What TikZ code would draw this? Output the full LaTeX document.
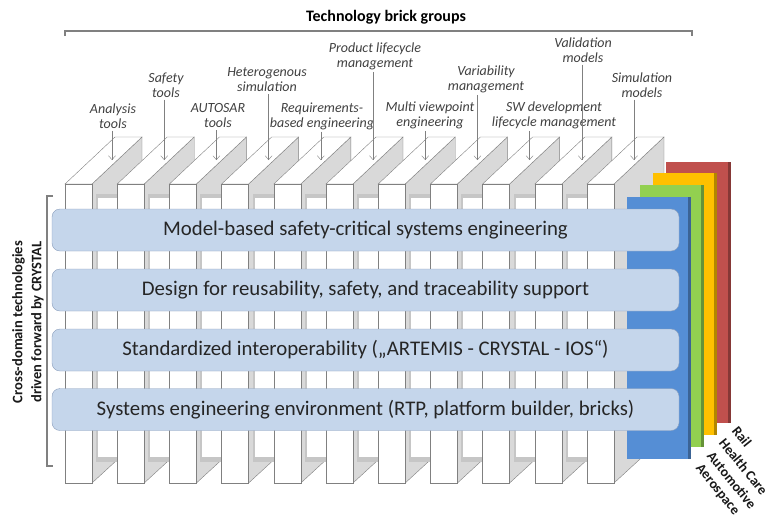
\documentclass[tikz,border=0pt]{standalone}
\usepackage{fontspec}
\setmainfont{Carlito}
\usepackage{tikz}
\usetikzlibrary{arrows.meta}

\definecolor{sidegray}{RGB}{217,217,217}
\definecolor{edgegray}{RGB}{128,128,128}
\definecolor{bandfill}{RGB}{197,214,235}
\definecolor{banddraw}{RGB}{138,158,188}
\definecolor{railred}{RGB}{192,80,77}
\definecolor{careyellow}{RGB}{255,192,0}
\definecolor{autogreen}{RGB}{146,208,80}
\definecolor{aeroblue}{RGB}{85,142,213}
\definecolor{labelgray}{RGB}{64,64,64}

\tikzset{
  bandbox/.style={draw=banddraw, fill=bandfill, rounded corners=8pt, minimum width=627pt,
               minimum height=42pt, text=black!85, font=\fontsize{20.8}{22}\selectfont},
  toollbl/.style={align=center, text=labelgray, inner sep=0pt,
               font=\fontsize{14}{15}\selectfont\itshape},
  toolarrow/.style={draw=edgegray, shorten <=2pt, -{Straight Barb[length=4pt,width=7pt]}},
  domainlbl/.style={rotate=-51, anchor=west, inner sep=0pt, text=black!90,
                 font=\fontsize{14}{15}\selectfont\bfseries},
  bracketline/.style={draw=edgegray, line width=1.2pt},
}

\begin{document}
\begin{tikzpicture}[x=1pt,y=-1pt]
  \useasboundingbox (0,0) rectangle (771,520);
  \pgfmathsetmacro\pstep{52.2}   % distance between two bricks

% bricks, left to right
  \foreach \i in {0,...,10} {
    \pgfmathsetmacro\hoff{65+\i*\pstep}
    \begin{scope}[shift={(\hoff,0)}]
      \filldraw[fill=sidegray,draw=edgegray] (27,184) -- (77,137) -- (77,437) -- (27,483) -- cycle;
      \ifnum\i<10
        \fill[gray!45] (31,194) rectangle (53,462);
        \fill[white]   (33,198) rectangle (53,457);
      \fi
      \filldraw[fill=white,draw=edgegray] (0,184) -- (50,137) -- (77,137) -- (27,184) -- cycle;
      \filldraw[fill=white,draw=edgegray] (0,184) rectangle (27,483);
      \coordinate (t\i) at (47,160);
    \end{scope}
  }

% domain panels
  \fill[railred]             (666,162) rectangle (731,423);
  \fill[railred!70!black]    (728,162) rectangle (731,423);
  \fill[careyellow]          (653,173) rectangle (717,435);
  \fill[careyellow!70!black] (714,173) rectangle (717,435);
  \fill[autogreen]           (640,185) rectangle (704,447);
  \fill[autogreen!70!black]  (701,185) rectangle (704,447);
  \fill[aeroblue]            (627,197) rectangle (691,459);
  \fill[aeroblue!70!black]   (688,197) rectangle (691,459);

  \node[domainlbl] (rail)  at (735,428) {Rail};
  \node[domainlbl] (care)  at (722,440) {Health Care};
  \node[domainlbl] (auto)  at (710,453) {Automotive};
  \node[domainlbl] (aero)  at (698,466) {Aerospace};

% cross-domain bands
  \node[bandbox] (model)   at (365.5,230) {Model-based safety-critical systems engineering};
  \node[bandbox] (design)  at (365.5,290) {Design for reusability, safety, and traceability support};
  \node[bandbox] (interop) at (365.5,350) {Standardized interoperability („ARTEMIS - CRYSTAL - IOS“)};
  \node[bandbox] (rtp)     at (365.5,409.5) {Systems engineering environment (RTP, platform builder, bricks)};

% brick labels with arrows
  \node[toollbl] (analysis) at (113,116) {Analysis\\tools};
  \node[toollbl] (safety)   at (166,85)  {Safety\\tools};
  \node[toollbl] (autosar)  at (218,116) {AUTOSAR\\tools};
  \node[toollbl] (hetero)   at (267,80)  {Heterogenous\\simulation};
  \node[toollbl] (req)      at (322,116) {Requirements-\\based engineering};
  \node[toollbl] (plm)      at (375,56)  {Product lifecycle\\management};
  \node[toollbl] (multi)    at (430,115) {Multi viewpoint\\engineering};
  \node[toollbl] (variab)   at (486,79)  {Variability\\management};
  \node[toollbl] (swdev)    at (554,115) {SW development\\lifecycle management};
  \node[toollbl] (valid)    at (583,50)  {Validation\\models};
  \node[toollbl] (simmod)   at (642,85)  {Simulation\\models};

  \draw[toolarrow] (analysis.south -| t0) -- (t0);
  \draw[toolarrow] (safety.south -| t1)   -- (t1);
  \draw[toolarrow] (autosar.south -| t2)  -- (t2);
  \draw[toolarrow] (hetero.south -| t3)   -- (t3);
  \draw[toolarrow] (req.south -| t4)      -- (t4);
  \draw[toolarrow] (plm.south -| t5)      -- (t5);
  \draw[toolarrow] (multi.south -| t6)    -- (t6);
  \draw[toolarrow] (variab.south -| t7)   -- (t7);
  \draw[toolarrow] (swdev.south -| t8)    -- (t8);
  \draw[toolarrow] (valid.south -| t9)    -- (t9);
  \draw[toolarrow] (simmod.south -| t10)  -- (t10);

% brackets
  \node[font=\fontsize{16}{18}\selectfont\bfseries] (title) at (386,17) {Technology brick groups};
  \draw[bracketline] (65,36) -- (65,31) -- (692,31) -- (692,36);

  \node[rotate=90,align=center,font=\fontsize{14.5}{19}\selectfont\bfseries,text=black!90]
       (crossdomain) at (28,322) {Cross-domain technologies\\driven forward by CRYSTAL};
  \draw[bracketline] (53,196) -- (47,196) -- (47,466) -- (53,466);

\end{tikzpicture}
\end{document}
